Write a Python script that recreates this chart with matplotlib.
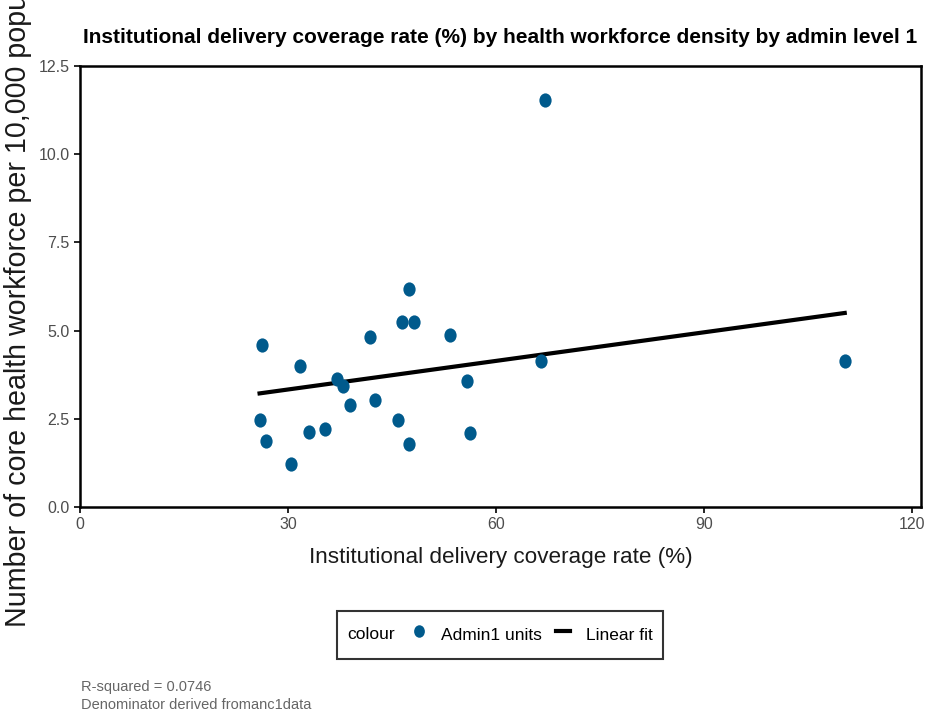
import matplotlib
matplotlib.use("Agg")
import matplotlib.pyplot as plt
import numpy as np
from matplotlib.lines import Line2D
from matplotlib.offsetbox import HPacker
from matplotlib.path import Path

# Admin1 units: coverage rate (%) and workforce density
coverage = [67.0, 47.4, 46.4, 48.2, 41.8, 53.3, 26.3, 31.7, 66.5, 110.3, 55.8,
            37.0, 38.0, 38.9, 42.6, 25.9, 45.8, 26.8, 33.1, 35.4, 47.4, 56.2, 30.4]
density = [11.53, 6.17, 5.23, 5.23, 4.83, 4.88, 4.60, 3.99, 4.15, 4.15, 3.57,
           3.62, 3.44, 2.90, 3.04, 2.48, 2.48, 1.88, 2.14, 2.22, 1.80, 2.09, 1.22]
# linear fit line as drawn in the source chart
fit_x = [25.9, 110.3]
fit_y = [3.22, 5.50]
x_ticks = [0, 30, 60, 90, 120]
y_ticks = [0.0, 2.5, 5.0, 7.5, 10.0, 12.5]

sans = ["Liberation Sans", "DejaVu Sans"]
plt.rcParams["font.family"] = sans

fig = plt.figure(figsize=(9.26, 7.15), dpi=100)
ax = fig.add_axes([0.0864, 0.2909, 0.9082, 0.6168])

# slightly tall dots, like the source image
circ = Path.unit_circle()
oval = Path(circ.vertices * np.array([0.86, 1.0]), circ.codes)

dot_color = "#005A8C"
ax.scatter(coverage, density, s=105, marker=oval, color=dot_color, zorder=3, linewidths=0)
ax.plot(fit_x, fit_y, color="black", lw=3, zorder=2)

ax.set_xlim(0, 121.3)
ax.set_ylim(0, 12.5)
ax.set_xticks(x_ticks)
ax.set_yticks(y_ticks)
ax.set_yticklabels([f"{v:.1f}" for v in y_ticks])
ax.tick_params(labelsize=11.5, labelcolor="#4D4D4D", length=4, width=1.2, color="black")
for sp in ax.spines.values():
    sp.set_linewidth(1.8)

fig.text(0.5405, 0.948, "Institutional delivery coverage rate (%) by health workforce density by admin level 1",
         ha="center", va="center", fontsize=15, fontweight="bold")
fig.text(0.5405, 0.22, "Institutional delivery coverage rate (%)", ha="center", va="center",
         fontsize=16.2, color="#1A1A1A")
# the source chart cuts this label off at the top edge
fig.text(0.019, 0.123, "Number of core health workforce per 10,000 population", rotation=90,
         ha="center", va="bottom", fontsize=20.6, color="#1A1A1A")

handles = [Line2D([], [], marker=oval, ls="", color=dot_color, markersize=9, markeredgewidth=0),
           Line2D([], [], color="black", lw=3)]
leg = fig.legend(handles, ["Admin1 units", "Linear fit"], loc="center", bbox_to_anchor=(0.54, 0.112),
                 ncol=2, title="colour", frameon=True, fancybox=False, edgecolor="black",
                 prop={"size": 12.5}, title_fontproperties={"size": 12.5},
                 handlelength=0.8, handleheight=2.0, handletextpad=0.9, columnspacing=0.8,
                 borderpad=0.6, borderaxespad=0)
leg.get_frame().set_linewidth(1.5)
# put the legend title on the left of the keys, as ggplot does
old = leg._legend_box
new = HPacker(pad=old.pad, sep=12, align="center", children=old.get_children())
new.set_figure(fig)
leg._legend_box = new
new.set_offset(leg._findoffset)

fig.text(0.0875, 0.039, "R-squared = 0.0746", fontsize=10.5, color="#666666", va="center")
fig.text(0.0875, 0.014, "Denominator derived fromanc1data", fontsize=10.5, color="#666666", va="center")

fig.savefig("out.png", dpi=100)
